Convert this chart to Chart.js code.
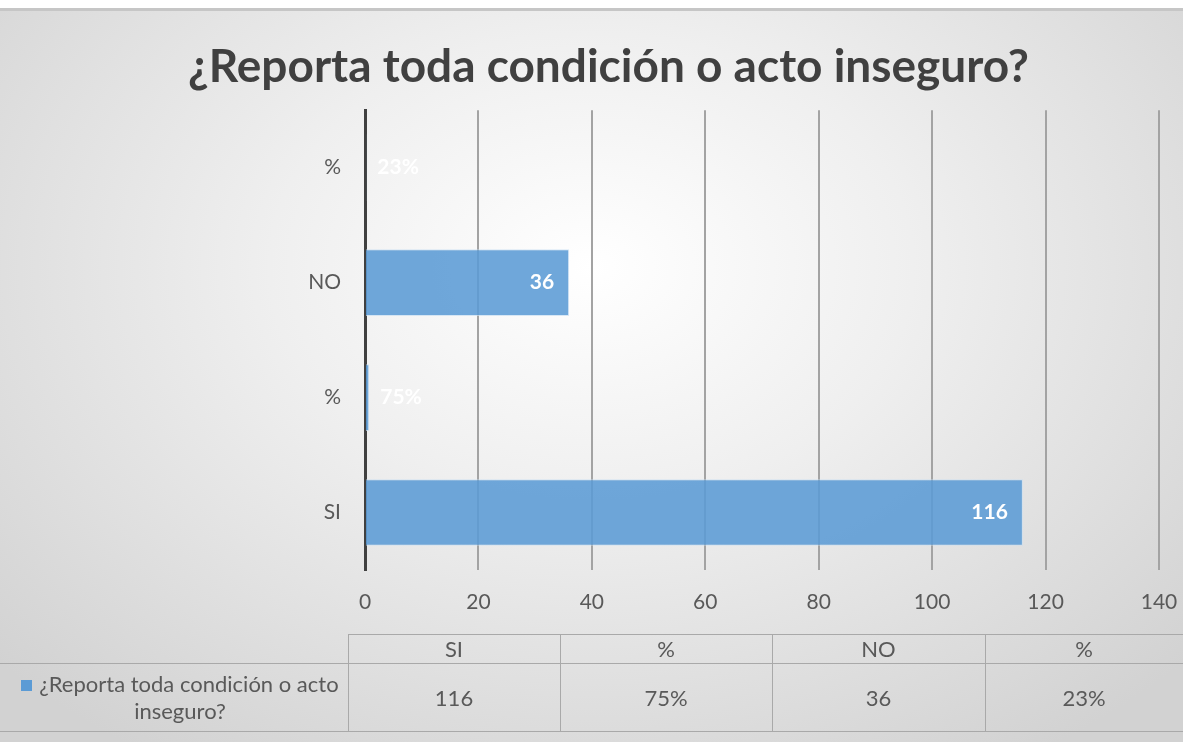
<!DOCTYPE html>
<html>
<head>
<meta charset="utf-8">
<script src="https://cdn.jsdelivr.net/npm/chart.js@4"></script>
<style>
  html, body { margin: 0; padding: 0; background: #fff; }
  #wrap { position: relative; width: 1183px; height: 742px; overflow: hidden; }
  #bg {
    position: absolute; left: 0; top: 8px; width: 1183px; height: 734px;
    border-top: 3px solid #c6c6c6; box-sizing: border-box;
    background: radial-gradient(ellipse 68% 80% at 50% 35%, #ffffff 0%, #efefef 40%, #d2d2d2 100%);
  }
  canvas { position: absolute; left: 0; top: 0; }
  .cell {
    position: absolute; box-sizing: border-box;
    display: flex; align-items: center; justify-content: center; text-align: center;
    font: 22px Lato, sans-serif; color: #595959; line-height: 27px;
  }
  .line { position: absolute; background: #a9a9a9; }
  .key { display: inline-block; width: 11px; height: 11px; background: #5b9bd5; margin-right: 7px; vertical-align: 1px; }
</style>
</head>
<body>
<div id="wrap">
  <div id="bg"></div>
  <canvas id="myChart" width="1183" height="742"></canvas>
</div>
<script>
const seriesName = '¿Reporta toda condición o acto inseguro?';
const categories = ['SI', '%', 'NO', '%'];
const values = [116, 0.75, 36, 0.23];
const valueLabels = ['116', '75%', '36', '23%'];
const axisMin = 0;
const axisMax = 140;
const axisStep = 20;

// white value labels at the end of each bar (outside when the bar is too short)
const barLabels = {
  id: 'barLabels',
  afterDatasetsDraw(chart) {
    const { ctx } = chart;
    const meta = chart.getDatasetMeta(0);
    ctx.save();
    ctx.font = 'bold 21px Lato';
    ctx.fillStyle = '#ffffff';
    ctx.textBaseline = 'middle';
    meta.data.forEach((bar, i) => {
      const text = valueLabels[i];
      const w = ctx.measureText(text).width;
      if (bar.x - bar.base > w + 24) {
        ctx.textAlign = 'right';
        ctx.fillText(text, bar.x - 15, bar.y);
      } else {
        ctx.textAlign = 'left';
        ctx.fillText(text, bar.x + 11, bar.y);
      }
    });
    ctx.restore();
  }
};

const ctx = document.getElementById('myChart');
new Chart(ctx, {
  type: 'bar',
  data: {
    labels: categories,
    datasets: [{
      label: seriesName,
      data: values,
      backgroundColor: 'rgba(91,155,213,0.88)',
      borderColor: 'rgba(200,222,242,0.7)',
      borderWidth: 1,
      barPercentage: 0.58,
      categoryPercentage: 1,
    }],
  },
  options: {
    indexAxis: 'y',
    responsive: false,
    animation: false,
    layout: { padding: { top: 0, right: 0, bottom: 112, left: 34 } },
    plugins: {
      legend: { display: false },
      tooltip: { enabled: false },
      title: {
        display: true,
        text: seriesName,
        color: '#404040',
        font: { family: 'Lato', size: 46, weight: 'bold', lineHeight: 1.2 },
        padding: { top: 40, bottom: 15 },
      },
    },
    scales: {
      x: {
        min: axisMin,
        max: axisMax,
        ticks: { stepSize: axisStep, color: '#595959', font: { family: 'Lato', size: 21 }, padding: 20 },
        grid: {
          drawTicks: false,
          lineWidth: 2,
          color: (c) => (c.tick && c.tick.value === 0 ? 'rgba(0,0,0,0)' : '#a3a3a3'),
        },
        border: { display: false },
        afterFit: (s) => {
          s.height = 60;
          s.paddingLeft = 0;
          s.paddingRight = 24;
        },
      },
      y: {
        reverse: true,
        ticks: { color: '#595959', font: { family: 'Lato', size: 21 }, padding: 24 },
        grid: { display: false, drawTicks: false },
        border: { color: '#404040', width: 3 },
        afterFit: (s) => { s.width = 331; },
      },
    },
  },
  plugins: [barLabels],
});

// data table under the chart
const wrap = document.getElementById('wrap');
const colEdges = [348, 560, 772, 985, 1183];
const headTop = 634, rowTop = 663, rowBottom = 731;

function addDiv(cls, x, y, w, h, html) {
  const d = document.createElement('div');
  d.className = cls;
  Object.assign(d.style, { left: x + 'px', top: y + 'px', width: w + 'px', height: h + 'px' });
  if (html !== undefined) d.innerHTML = html;
  wrap.appendChild(d);
  return d;
}

addDiv('line', colEdges[0], headTop, 1183 - colEdges[0], 1);
addDiv('line', 0, rowTop, 1183, 1);
addDiv('line', 0, rowBottom, 1183, 1);
colEdges.slice(0, 4).forEach((x) => addDiv('line', x, headTop, 1, rowBottom - headTop));

categories.forEach((cat, i) => {
  const x = colEdges[i], w = colEdges[i + 1] - x;
  addDiv('cell', x, headTop, w, rowTop - headTop, cat);
  addDiv('cell', x, rowTop, w, rowBottom - rowTop, valueLabels[i]);
});
addDiv('cell', 12, rowTop, colEdges[0] - 12, rowBottom - rowTop,
  '<span><span class="key"></span>' + seriesName.replace(' inseguro?', '<br>inseguro?') + '</span>');
</script>
</body>
</html>
